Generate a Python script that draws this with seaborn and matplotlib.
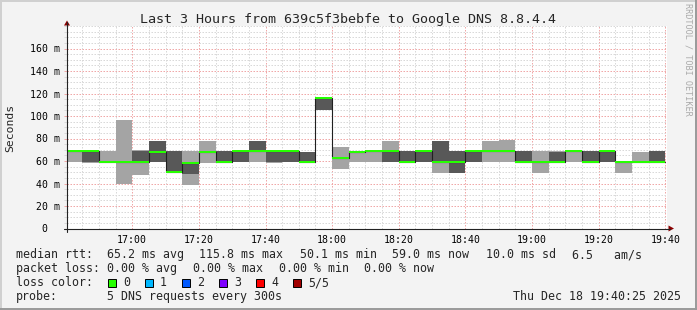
import matplotlib
matplotlib.use("Agg")
import matplotlib.pyplot as plt
import matplotlib.dates as mdates
from matplotlib.patches import Rectangle, Polygon
from matplotlib.lines import Line2D
from matplotlib.ticker import FixedLocator, MultipleLocator
import numpy as np
import pandas as pd
import seaborn as sns

# ---------------- data ----------------
day = "2025-12-18"
bin_times = ["16:40", "16:45", "16:50", "16:55", "17:00", "17:05", "17:10", "17:15",
             "17:20", "17:25", "17:30", "17:35", "17:40", "17:45", "17:50", "17:55",
             "18:00", "18:05", "18:10", "18:15", "18:20", "18:25", "18:30", "18:35",
             "18:40", "18:45", "18:50", "18:55", "19:00", "19:05", "19:10", "19:15",
             "19:20", "19:25", "19:30", "19:35"]
rtt_min = [59.5, 58.5, 58.7, 39.5, 47.5, 58.7, 49.8, 38.7, 58.0, 58.5, 58.8, 58.8,
           58.3, 58.8, 58.5, 105.0, 53.0, 58.8, 58.8, 58.7, 58.5, 58.7, 49.5, 49.0,
           58.7, 58.8, 58.8, 58.5, 49.5, 58.5, 58.8, 58.5, 58.7, 49.5, 58.5, 58.5]
rtt_p2 = [68.5, 59.0, 58.9, 58.8, 59.0, 59.0, 50.0, 48.5, 67.8, 59.0, 59.0, 69.0,
          59.0, 59.0, 58.8, 105.5, 62.3, 67.8, 68.8, 59.0, 59.0, 59.0, 59.0, 49.5,
          59.0, 68.5, 68.5, 59.0, 58.8, 59.0, 68.3, 59.0, 59.0, 58.5, 58.8, 59.0]
rtt_median = [69.0, 69.0, 59.2, 59.2, 59.2, 68.3, 50.1, 58.5, 68.3, 59.3, 68.5, 69.2,
              68.5, 68.5, 59.2, 115.8, 62.8, 68.3, 69.2, 69.0, 59.2, 68.5, 59.3, 59.0,
              68.5, 69.0, 69.1, 59.2, 59.2, 59.1, 68.6, 59.2, 68.6, 59.0, 59.1, 59.0]
rtt_p4 = [69.3, 69.2, 59.5, 59.5, 69.0, 77.8, 69.0, 58.7, 68.8, 69.0, 69.0, 77.8,
          69.0, 69.0, 68.0, 116.0, 63.3, 68.6, 69.5, 69.3, 69.0, 68.8, 77.8, 69.0,
          68.8, 69.3, 69.4, 69.0, 59.5, 68.3, 68.8, 69.0, 68.8, 59.3, 59.4, 68.5]
rtt_max = [69.6, 69.5, 69.0, 96.5, 69.5, 78.0, 69.3, 69.0, 77.8, 69.3, 69.2, 78.0,
           69.3, 69.5, 68.3, 116.2, 72.5, 68.9, 69.8, 78.0, 69.3, 69.0, 78.0, 69.3,
           69.0, 78.0, 79.0, 69.3, 69.2, 68.6, 69.0, 69.3, 69.0, 59.5, 68.2, 68.8]
loss_count = [0] * 36

x_tick_labels = ["17:00", "17:20", "17:40", "18:00", "18:20", "18:40", "19:00", "19:20", "19:40"]
y_tick_values = [0, 20, 40, 60, 80, 100, 120, 140, 160]
y_tick_labels = ["0  ", "20 m", "40 m", "60 m", "80 m", "100 m", "120 m", "140 m", "160 m"]
view_start = "16:40:25"
view_end = "19:40:25"

title = "Last 3 Hours from 639c5f3bebfe to Google DNS 8.8.4.4"
y_label = "Seconds"
rtt_items = ["65.2 ms avg", "115.8 ms max", "50.1 ms min", "59.0 ms now", "10.0 ms sd", "6.5   am/s"]
loss_items = ["0.00 % avg", "0.00 % max", "0.00 % min", "0.00 % now"]
loss_labels = ["0", "1", "2", "3", "4", "5/5"]
loss_colors = ["#26ff00", "#00b8ff", "#0059ff", "#7e00ff", "#ff0000", "#a10000"]
probe_text = "5 DNS requests every 300s"
stamp_text = "Thu Dec 18 19:40:25 2025"
credit = "RRDTOOL / TOBI OETIKER"

# ---------------- style ----------------
sns.set_theme(style="white")
MONO = ["DejaVu Sans Mono", "DejaVu Sans"]
plt.rcParams["font.family"] = MONO

W, H = 697, 310
BG = "#f3f3f3"
fig = plt.figure(figsize=(W / 100, H / 100), dpi=100, facecolor=BG)


def fx(px):
    return px / W


def fy(py):
    return 1 - py / H


L, R, T, B = 67, 666.7, 26, 228.5
ax = fig.add_axes([fx(L), fy(B), (R - L) / W, (B - T) / H])
ax.set_facecolor("white")
for s in ax.spines.values():
    s.set_visible(False)

x = mdates.date2num(pd.to_datetime([f"{day} {t}" for t in bin_times]))
width = 5 / 1440
band = 0.9

# smoke
ax.bar(x, np.subtract(rtt_max, rtt_min), bottom=rtt_min, width=width, align="edge",
       color="#a4a4a4", linewidth=0, zorder=2)
ax.bar(x, np.subtract(rtt_p4, rtt_p2), bottom=rtt_p2, width=width, align="edge",
       color="#585858", linewidth=0, zorder=3)

# median step line
df = pd.DataFrame({"t": list(x) + [x[-1] + width],
                   "med": list(rtt_median) + [rtt_median[-1]]})
sns.lineplot(data=df, x="t", y="med", drawstyle="steps-post", color="#202020",
             linewidth=0.8, estimator=None, ax=ax, zorder=4)

# median band coloured by loss
ax.bar(x, 2 * band, bottom=np.array(rtt_median) - band, width=width, align="edge",
       color=[loss_colors[c] for c in loss_count], linewidth=0, zorder=5)

ax.set_xlim(mdates.date2num(pd.Timestamp(f"{day} {view_start}")),
            mdates.date2num(pd.Timestamp(f"{day} {view_end}")))
ax.set_ylim(0, 180)
ax.set_xlabel("")
ax.set_ylabel("")

xt = mdates.date2num(pd.to_datetime([f"{day} {t}" for t in x_tick_labels]))
ax.xaxis.set_major_locator(FixedLocator(xt))
ax.set_xticklabels(x_tick_labels)
ax.xaxis.set_minor_locator(MultipleLocator(5 / 1440))
ax.set_yticks(y_tick_values)
ax.set_yticklabels(y_tick_labels)
ax.yaxis.set_minor_locator(MultipleLocator(5))

ax.set_axisbelow(True)
GRID_MINOR = "#d9d9d9"
GRID_MAJOR = "#f0a8a8"
ax.grid(True, which="minor", color=GRID_MINOR, linestyle=(0, (1.5, 1.5)), linewidth=0.72)
ax.grid(True, which="major", color=GRID_MAJOR, linestyle=(0, (1.5, 1.5)), linewidth=0.72)

ax.tick_params(axis="y", which="major", direction="out", length=2.2, width=0.72,
               color=GRID_MAJOR, labelsize=7.1, pad=2.6, left=True)
ax.tick_params(axis="y", which="minor", direction="out", length=2.2, width=0.72,
               color=GRID_MINOR, left=True)
ax.tick_params(axis="x", which="both", length=0, labelsize=7.1, pad=5)
for lab in ax.get_xticklabels() + ax.get_yticklabels():
    lab.set_family(MONO)
    lab.set_color("black")

# axes lines and arrows
fig.add_artist(Line2D([fx(L), fx(L)], [fy(231.5), fy(22)], color="#222222", lw=0.8))
fig.add_artist(Line2D([fx(64), fx(670)], [fy(B), fy(B)], color="#222222", lw=0.8))
fig.add_artist(Polygon([[fx(L - 3), fy(25.5)], [fx(L + 3), fy(25.5)], [fx(L), fy(20.5)]],
                       closed=True, color="#8b0000", lw=0))
fig.add_artist(Polygon([[fx(668.5), fy(B - 3)], [fx(668.5), fy(B + 3)], [fx(674), fy(B)]],
                       closed=True, color="#8b0000", lw=0))

# frame shading
fig.add_artist(Line2D([0, 1], [fy(0.5), fy(0.5)], color="#d0d0d0", lw=1.4))
fig.add_artist(Line2D([fx(0.5), fx(0.5)], [0, 1], color="#d0d0d0", lw=1.4))
fig.add_artist(Line2D([0, 1], [fy(309), fy(309)], color="#999999", lw=1.4))
fig.add_artist(Line2D([fx(696), fx(696)], [0, 1], color="#999999", lw=1.4))

# texts
fig.text(fx(348), fy(19.5), title, ha="center", va="center", fontsize=9.6, family=MONO)
fig.text(fx(10.5), fy(128), y_label, ha="center", va="center", rotation=90,
         fontsize=8.2, family=MONO)
fig.text(fx(688), fy(3), credit, ha="center", va="top", rotation=270,
         fontsize=6.1, family=MONO, color="#aaaaaa")

LEG = 8.35
rows = [254.8, 268.8, 282.8, 296.8]
fig.text(fx(16), fy(rows[0]), "median rtt:", ha="left", va="center", fontsize=LEG, family=MONO)
rtt_x = [107, 199, 299.5, 392.5, 485.5, 572]
for xx, s in zip(rtt_x, rtt_items):
    fig.text(fx(xx), fy(rows[0]), s, ha="left", va="center", fontsize=LEG, family=MONO)

fig.text(fx(16), fy(rows[1]), "packet loss:", ha="left", va="center", fontsize=LEG, family=MONO)
loss_x = [107, 192.8, 278.6, 364.4]
for xx, s in zip(loss_x, loss_items):
    fig.text(fx(xx), fy(rows[1]), s, ha="left", va="center", fontsize=LEG, family=MONO)

fig.text(fx(16), fy(rows[2]), "loss color:", ha="left", va="center", fontsize=LEG, family=MONO)
sw_x = [108, 145, 182, 219, 256, 293]
for xx, lab, col in zip(sw_x, loss_labels, loss_colors):
    fig.add_artist(Rectangle((fx(xx), fy(287)), 8 / W, 8 / H, facecolor=col,
                             edgecolor="black", lw=0.7, transform=fig.transFigure))
    fig.text(fx(xx + 15), fy(rows[2]), lab, ha="left", va="center", fontsize=LEG, family=MONO)

fig.text(fx(16), fy(rows[3]), "probe:", ha="left", va="center", fontsize=LEG, family=MONO)
fig.text(fx(107), fy(rows[3]), probe_text, ha="left", va="center", fontsize=LEG, family=MONO)
fig.text(fx(681), fy(rows[3]), stamp_text, ha="right", va="center", fontsize=LEG, family=MONO)

fig.savefig("out.png", dpi=100, facecolor=BG)
